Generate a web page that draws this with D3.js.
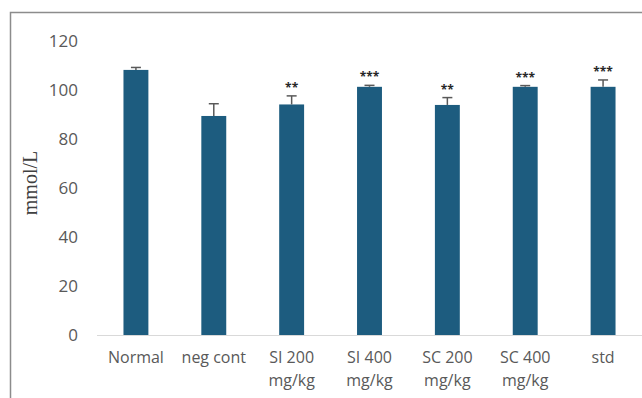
<!DOCTYPE html>
<html lang="en">
<head>
<meta charset="utf-8">
<title>mmol/L bar chart</title>
<script src="https://d3js.org/d3.v7.min.js"></script>
<style>
  body { margin: 0; background: #fff; }
  svg text { font-family: "Open Sans", "Liberation Sans", sans-serif; }
</style>
</head>
<body>
<div id="chart"></div>
<script>
// data
var groups = ["Normal", "neg cont", "SI 200|mg/kg", "SI 400|mg/kg", "SC 200|mg/kg", "SC 400|mg/kg", "std"];
var means = [108.2, 89.4, 94.1, 101.3, 93.9, 101.3, 101.3];
var errors = [1.0, 5.0, 3.5, 0.6, 3.0, 0.5, 2.8];
var stars = ["", "", "**", "***", "**", "***", "***"];
var yTicks = [0, 20, 40, 60, 80, 100, 120];

var W = 642, H = 398;
var margin = {top: 41, right: 0, bottom: 63, left: 97};
var width = W - margin.left - margin.right,
    height = H - margin.top - margin.bottom;

var svg = d3.select("#chart").append("svg")
    .attr("width", W)
    .attr("height", H);

// outer frame (only top and left edges are visible in the crop)
svg.append("path")
    .attr("d", "M10.5," + H + "V12.5H" + W)
    .attr("fill", "none")
    .attr("stroke", "#8c8c8c")
    .attr("stroke-width", 1.5);

var g = svg.append("g")
    .attr("transform", "translate(" + margin.left + "," + margin.top + ")");

var x = d3.scaleBand()
    .domain(groups)
    .range([0, width])
    .paddingInner(0.68)
    .paddingOuter(0.34);

var y = d3.scaleLinear()
    .domain([0, 120])
    .range([height, 0]);

// y tick labels (no axis line)
g.selectAll(".ytick")
  .data(yTicks)
  .enter().append("text")
    .attr("class", "ytick")
    .attr("x", -19)
    .attr("y", function(d) { return y(d); })
    .attr("dy", "0.35em")
    .attr("text-anchor", "end")
    .attr("fill", "#595959")
    .style("font-size", "17px")
    .text(function(d) { return d; });

// bars
g.selectAll(".bar")
  .data(groups)
  .enter().append("rect")
    .attr("class", "bar")
    .attr("x", function(d) { return x(d); })
    .attr("y", function(d, i) { return y(means[i]); })
    .attr("width", x.bandwidth())
    .attr("height", function(d, i) { return height - y(means[i]); })
    .attr("fill", "#1d5c7f");

// x axis baseline
g.append("line")
    .attr("x1", 0).attr("x2", width)
    .attr("y1", height + 0.5).attr("y2", height + 0.5)
    .attr("stroke", "#d9d9d9")
    .attr("stroke-width", 1);

// error bars (upper only)
var eb = g.selectAll(".err")
  .data(groups)
  .enter().append("g")
    .attr("class", "err")
    .attr("transform", function(d) { return "translate(" + (x(d) + x.bandwidth() / 2) + ",0)"; });

eb.append("line")
    .attr("x1", 0).attr("x2", 0)
    .attr("y1", function(d, i) { return y(means[i]); })
    .attr("y2", function(d, i) { return y(means[i] + errors[i]); })
    .attr("stroke", "#595959")
    .attr("stroke-width", 1.5);

eb.append("line")
    .attr("x1", -5).attr("x2", 5)
    .attr("y1", function(d, i) { return y(means[i] + errors[i]); })
    .attr("y2", function(d, i) { return y(means[i] + errors[i]); })
    .attr("stroke", "#595959")
    .attr("stroke-width", 1.5);

// significance stars
eb.append("text")
    .attr("y", function(d, i) { return y(means[i] + errors[i]) - 4; })
    .attr("text-anchor", "middle")
    .attr("fill", "#262626")
    .style("font-size", "12px")
    .style("font-weight", "bold")
    .text(function(d, i) { return stars[i]; });

// x labels, split on "|"
var xl = g.selectAll(".xlab")
  .data(groups)
  .enter().append("text")
    .attr("class", "xlab")
    .attr("text-anchor", "middle")
    .attr("fill", "#595959")
    .style("font-size", "16px")
    .attr("transform", function(d) { return "translate(" + (x(d) + x.bandwidth() / 2) + "," + (height + 28) + ")"; });

xl.selectAll("tspan")
  .data(function(d) { return d.split("|"); })
  .enter().append("tspan")
    .attr("x", 0)
    .attr("dy", function(d, i) { return i ? 23 : 0; })
    .text(function(d) { return d; });

// y axis title
svg.append("text")
    .attr("transform", "translate(37," + (margin.top + height / 2 - 5) + ") rotate(-90)")
    .attr("text-anchor", "middle")
    .attr("fill", "#404040")
    .style("font-family", "'Liberation Serif', 'DejaVu Serif', serif")
    .style("font-size", "20px")
    .text("mmol/L");
</script>
</body>
</html>
